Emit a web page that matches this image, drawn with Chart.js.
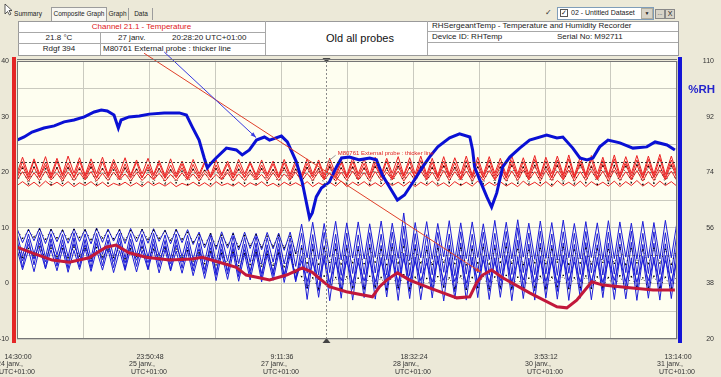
<!DOCTYPE html>
<html>
<head>
<meta charset="utf-8">
<script src="https://cdn.jsdelivr.net/npm/chart.js@4.4.1/dist/chart.umd.min.js"></script>
<style>
  body { margin:0; width:721px; height:377px; background:#ECE9D8; font-family:"Liberation Sans", Arial, sans-serif; overflow:hidden; position:relative; color:#222; }
  .a { position:absolute; white-space:nowrap; }
  .ln { position:absolute; background:#A8A8A8; }
  .tab { position:absolute; top:8px; height:12px; font-size:6.5px; line-height:12px; text-align:center; white-space:nowrap; }
  .cell { position:absolute; font-size:8px; white-space:nowrap; }
  #chart { position:absolute; left:0; top:0; z-index:2; }
</style>
</head>
<body>
<!-- window chrome: tabs, dataset picker, info table -->
<svg class="a" style="left:4px;top:3px" width="9" height="13"><path d="M1 1 L1 11 L3.5 8.5 L5.5 12 L7 11 L5 7.5 L8 7.5 Z" fill="#fff" stroke="#333" stroke-width="0.8"/></svg>
<div class="tab" style="left:8px;width:40px;">Summary</div>
<div class="tab" style="left:51px;width:54px;top:7px;height:13px;background:#F7F6F1;border:1px solid #9C9C9C;border-bottom:none;">Composite Graph</div>
<div class="tab" style="left:107px;width:21px;border-right:1px solid #9C9C9C;">Graph</div>
<div class="tab" style="left:130px;width:22px;border-right:1px solid #9C9C9C;">Data</div>

<div class="a" style="left:545px;top:9px;width:7px;height:7px;font-size:8px;line-height:7px;color:#333;">&#10003;</div>
<div class="a" style="left:557px;top:7px;width:95px;height:11px;background:#fff;border:1px solid #7F9DB9;"></div>
<div class="a" style="left:560px;top:9px;width:6px;height:6px;border:1px solid #555;font-size:7px;line-height:6px;text-align:center;background:#fff;">&#10003;</div>
<div class="a" style="left:571px;top:8px;font-size:7px;line-height:10px;">02 - Untitled Dataset</div>
<div class="a" style="left:641px;top:8px;width:10px;height:9px;background:#D8D4C8;border:1px solid #B0AC9C;font-size:5px;line-height:9px;text-align:center;">&#9660;</div>
<div class="a" style="left:655px;top:9px;width:8px;height:8px;background:#D8D4C8;border:1px solid #888;font-size:6px;line-height:6px;text-align:center;">...</div>
<div class="a" style="left:665px;top:9px;width:8px;height:8px;background:#D8D4C8;border:1px solid #888;font-size:7px;line-height:8px;text-align:center;">X</div>

<div class="a" style="left:18px;top:21px;width:659px;height:33px;background:#fff;border:1px solid #9A9A9A;"></div>
<div class="ln" style="left:18px;top:32px;width:247px;height:1px;"></div>
<div class="ln" style="left:18px;top:43px;width:247px;height:1px;"></div>
<div class="ln" style="left:427px;top:31px;width:251px;height:1px;"></div>
<div class="ln" style="left:427px;top:42px;width:251px;height:1px;"></div>
<div class="ln" style="left:100px;top:32px;width:1px;height:23px;"></div>
<div class="ln" style="left:265px;top:21px;width:1px;height:34px;"></div>
<div class="ln" style="left:427px;top:21px;width:1px;height:34px;"></div>

<div class="cell" style="left:18px;top:22px;width:247px;text-align:center;line-height:10px;color:#E02020;">Channel 21.1 - Temperature</div>
<div class="cell" style="left:18px;top:33px;width:82px;text-align:center;line-height:10px;">21.8 &#176;C</div>
<div class="cell" style="left:118px;top:33px;line-height:10px;">27 janv.</div>
<div class="cell" style="left:172px;top:33px;line-height:10px;">20:28:20 UTC+01:00</div>
<div class="cell" style="left:18px;top:44px;width:82px;text-align:center;line-height:10px;">Rdgf 394</div>
<div class="cell" style="left:103px;top:44px;line-height:10px;">M80761 External probe : thicker line</div>
<div class="cell" style="left:300px;top:31px;width:120px;text-align:center;font-size:11px;line-height:15px;color:#111;">Old all probes</div>
<div class="cell" style="left:432px;top:21px;line-height:10px;">RHSergeantTemp - Temperature and Humidity Recorder</div>
<div class="cell" style="left:432px;top:32px;line-height:10px;">Device ID: RHTemp</div>
<div class="cell" style="left:557px;top:32px;line-height:10px;">Serial No: M92711</div>

<canvas id="chart" width="721" height="377"></canvas>

<script>
// time axis: hours since 24 janv. 14:30:00 (UTC+01:00)
const spanHours = 166.733;
const timeLabels = [
  ["14:30:00", "24 janv."], ["23:50:48", "25 janv."], ["9:11:36", "27 janv."],
  ["18:32:24", "28 janv."], ["3:53:12", "30 janv."], ["13:14:00", "31 janv."]
];
const cursorHours = 77.97;   // 27 janv. 20:28:20
const cursorTemp = 21.8;

// logger sample times shared by the thin probe traces
const sampleHours = [
  0.0, 1.4, 2.9, 4.3, 5.7, 7.2, 8.6, 10.1, 11.5, 12.9,
  14.4, 15.8, 17.2, 18.7, 20.1, 21.6, 23.0, 24.4, 25.9, 27.3,
  28.7, 30.2, 31.6, 33.1, 34.5, 35.9, 37.4, 38.8, 40.2, 41.7,
  43.1, 44.5, 46.0, 47.4, 48.9, 50.3, 51.7, 53.2, 54.6, 56.0,
  57.5, 58.9, 60.4, 61.8, 63.2, 64.7, 66.1, 67.5, 69.0, 70.4,
  71.9, 73.3, 74.7, 76.2, 77.6, 79.0, 80.5, 81.9, 83.3, 84.8,
  86.2, 87.7, 89.1, 90.5, 92.0, 93.4, 94.8, 96.3, 97.7, 99.2,
  100.6, 102.0, 103.5, 104.9, 106.3, 107.8, 109.2, 110.6, 112.1, 113.5,
  115.0, 116.4, 117.8, 119.3, 120.7, 122.1, 123.6, 125.0, 126.5, 127.9,
  129.3, 130.8, 132.2, 133.6, 135.1, 136.5, 138.0, 139.4, 140.8, 142.3,
  143.7, 145.1, 146.6, 148.0, 149.4, 150.9, 152.3, 153.8, 155.2, 156.6,
  158.1, 159.5, 160.9, 162.4, 163.8, 165.3, 166.7
];

// temperature probes (°C)
const tempProbeA = [
  19.8, 22.7, 19.6, 22.4, 19.7, 22.8, 19.5, 22.5, 19.6, 22.9,
  19.8, 22.6, 19.5, 22.4, 19.7, 22.7, 19.6, 22.3, 19.8, 22.6,
  19.5, 22.2, 19.7, 22.5, 19.6, 22.1, 19.4, 22.4, 19.6, 22.0,
  19.5, 22.3, 19.7, 21.9, 19.4, 22.2, 19.6, 22.0, 19.5, 22.3,
  19.7, 21.9, 19.5, 22.2, 19.6, 22.0, 19.4, 22.3, 19.6, 22.1,
  19.5, 22.4, 19.7, 22.2, 19.5, 22.5, 19.6, 22.3, 19.4, 22.6,
  19.7, 22.4, 19.5, 22.7, 19.6, 22.5, 19.8, 22.8, 19.5, 22.6,
  19.7, 22.9, 19.6, 22.5, 19.4, 22.8, 19.6, 22.6, 19.7, 22.9,
  19.5, 22.7, 19.6, 22.8, 19.8, 22.5, 19.5, 22.9, 19.7, 22.6,
  19.6, 23.0, 19.5, 22.7, 19.7, 22.9, 19.6, 23.1, 19.4, 22.8,
  19.6, 23.0, 19.7, 22.7, 19.5, 23.1, 19.6, 22.8, 19.8, 23.0,
  19.5, 22.9, 19.7, 23.2, 19.6, 22.9, 19.8
];
const tempProbeB = [
  19.3, 21.9, 19.1, 22.1, 19.2, 21.8, 19.0, 22.0, 19.3, 21.7,
  19.1, 22.0, 19.2, 21.6, 19.0, 21.9, 19.3, 21.7, 19.1, 21.5,
  19.2, 21.8, 19.0, 21.4, 19.3, 21.6, 19.1, 21.3, 19.2, 21.5,
  19.0, 21.4, 19.2, 21.6, 19.1, 21.3, 19.3, 21.5, 19.0, 21.4,
  19.2, 21.6, 19.1, 21.3, 19.3, 21.5, 19.0, 21.7, 19.2, 21.4,
  19.1, 21.6, 19.3, 21.8, 19.0, 21.5, 19.2, 21.7, 19.1, 21.9,
  19.3, 21.6, 19.0, 21.8, 19.2, 22.0, 19.1, 21.7, 19.3, 21.9,
  19.0, 22.1, 19.2, 21.8, 19.1, 22.0, 19.3, 21.7, 19.0, 22.1,
  19.2, 21.9, 19.1, 22.2, 19.3, 21.8, 19.0, 22.1, 19.2, 21.9,
  19.1, 22.3, 19.3, 22.0, 19.0, 22.2, 19.2, 22.4, 19.1, 22.0,
  19.3, 22.3, 19.0, 22.1, 19.2, 22.4, 19.1, 22.0, 19.3, 22.2,
  19.0, 22.3, 19.2, 22.5, 19.1, 22.2, 19.3
];
const tempProbeC = [
  19.0, 21.1, 18.8, 20.9, 19.0, 21.2, 18.9, 20.8, 18.8, 21.0,
  19.0, 20.9, 18.8, 21.1, 18.9, 20.7, 19.0, 21.0, 18.8, 20.8,
  18.9, 20.6, 19.0, 20.9, 18.8, 20.7, 18.9, 20.5, 19.0, 20.8,
  18.8, 20.6, 18.9, 20.4, 19.0, 20.7, 18.8, 20.5, 18.9, 20.6,
  19.0, 20.4, 18.8, 20.7, 18.9, 20.5, 19.0, 20.8, 18.8, 20.6,
  18.9, 20.9, 19.0, 20.7, 18.8, 21.0, 18.9, 20.8, 19.0, 21.1,
  18.8, 20.9, 18.9, 21.2, 19.0, 20.8, 18.8, 21.1, 18.9, 20.9,
  19.0, 21.2, 18.8, 21.0, 18.9, 21.3, 19.0, 20.9, 18.8, 21.2,
  18.9, 21.0, 19.0, 21.3, 18.8, 21.1, 18.9, 21.4, 19.0, 21.0,
  18.8, 21.3, 18.9, 21.1, 19.0, 21.4, 18.8, 21.2, 18.9, 21.5,
  19.0, 21.2, 18.8, 21.4, 18.9, 21.1, 19.0, 21.5, 18.8, 21.3,
  18.9, 21.4, 19.0, 21.2, 18.8, 21.5, 18.9
];
const tempProbeD = [
  18.6, 20.1, 18.4, 19.9, 18.5, 20.2, 18.6, 19.8, 18.4, 20.0,
  18.5, 19.9, 18.6, 20.1, 18.4, 19.8, 18.5, 20.0, 18.6, 19.7,
  18.4, 19.9, 18.5, 19.7, 18.6, 19.8, 18.4, 19.6, 18.5, 19.9,
  18.6, 19.7, 18.4, 19.8, 18.5, 19.6, 18.6, 19.9, 18.4, 19.7,
  18.5, 19.8, 18.6, 19.6, 18.4, 19.9, 18.5, 19.7, 18.6, 20.0,
  18.4, 19.8, 18.5, 20.1, 18.6, 19.9, 18.4, 20.0, 18.5, 20.2,
  18.6, 19.9, 18.4, 20.1, 18.5, 20.0, 18.6, 20.2, 18.4, 19.9,
  18.5, 20.2, 18.6, 20.0, 18.4, 20.3, 18.5, 20.1, 18.6, 20.2,
  18.4, 20.0, 18.5, 20.3, 18.6, 20.1, 18.4, 20.2, 18.5, 20.4,
  18.6, 20.1, 18.4, 20.3, 18.5, 20.2, 18.6, 20.4, 18.4, 20.1,
  18.5, 20.3, 18.6, 20.2, 18.4, 20.4, 18.5, 20.1, 18.6, 20.3,
  18.4, 20.2, 18.5, 20.4, 18.6, 20.2, 18.5
];
const tempProbeE = [
  17.6, 18.3, 17.5, 18.2, 17.4, 18.4, 17.6, 18.2, 17.5, 18.3,
  17.4, 18.1, 17.6, 18.3, 17.5, 18.2, 17.4, 18.0, 17.6, 18.2,
  17.5, 18.1, 17.4, 18.3, 17.6, 18.1, 17.5, 18.2, 17.4, 18.0,
  17.6, 18.2, 17.5, 18.1, 17.4, 18.3, 17.6, 18.0, 17.5, 18.2,
  17.4, 18.1, 17.6, 18.3, 17.5, 18.0, 17.4, 18.2, 17.6, 18.1,
  17.5, 18.3, 17.4, 18.1, 17.6, 18.2, 17.5, 18.4, 17.4, 18.2,
  17.6, 18.3, 17.5, 18.1, 17.4, 18.4, 17.6, 18.2, 17.5, 18.3,
  17.4, 18.2, 17.6, 18.4, 17.5, 18.1, 17.4, 18.3, 17.6, 18.2,
  17.5, 18.4, 17.4, 18.2, 17.6, 18.3, 17.5, 18.1, 17.4, 18.4,
  17.6, 18.2, 17.5, 18.3, 17.4, 18.5, 17.6, 18.2, 17.5, 18.4,
  17.4, 18.3, 17.6, 18.2, 17.5, 18.4, 17.4, 18.3, 17.6, 18.5,
  17.5, 18.2, 17.4, 18.4, 17.6, 18.3, 17.5
];
const tempProbeRef = [
  18.0, 20.7, 17.9, 20.9, 18.1, 20.6, 17.8, 20.8, 18.0, 20.7,
  17.9, 20.5, 18.1, 20.8, 17.8, 20.6, 18.0, 20.4, 17.9, 20.7,
  18.1, 20.5, 17.8, 20.3, 18.0, 20.6, 17.9, 20.4, 18.1, 20.2,
  17.8, 20.5, 18.0, 20.3, 17.9, 20.6, 18.1, 20.4, 17.8, 20.5,
  18.0, 20.3, 17.9, 20.6, 18.1, 20.4, 17.8, 20.7, 18.0, 20.5,
  17.9, 20.8, 18.1, 20.6, 17.8, 20.9, 18.0, 20.7, 17.9, 20.8,
  18.1, 20.6, 17.8, 20.9, 18.0, 20.7, 17.9, 21.0, 18.1, 20.8,
  17.8, 20.9, 18.0, 20.7, 17.9, 21.0, 18.1, 20.8, 17.8, 21.1,
  18.0, 20.9, 17.9, 21.0, 18.1, 20.8, 17.8, 21.1, 18.0, 20.9,
  17.9, 21.2, 18.1, 20.9, 17.8, 21.1, 18.0, 21.0, 17.9, 21.2,
  18.1, 20.9, 17.8, 21.1, 18.0, 21.2, 17.9, 21.0, 18.1, 21.3,
  17.8, 21.0, 18.0, 21.2, 17.9, 21.1, 18.0
];

// humidity probes (%RH)
const rhProbeA = [
  55.8, 51.2, 55.5, 51.8, 55.9, 50.9, 55.6, 51.5, 55.4, 51.0,
  55.7, 51.6, 55.5, 50.8, 55.9, 51.3, 55.6, 51.7, 55.4, 50.9,
  55.8, 51.4, 55.5, 51.0, 55.7, 51.6, 55.3, 50.8, 55.6, 51.2,
  55.4, 50.6, 54.6, 49.5, 54.3, 49.0, 54.7, 49.4, 54.4, 48.8,
  54.6, 49.3, 54.2, 48.9, 54.5, 49.2, 54.3, 48.7, 54.6, 47.5,
  57.2, 46.3, 57.8, 45.8, 57.4, 46.5, 58.1, 45.6, 57.6, 46.2,
  57.9, 45.9, 57.3, 46.4, 58.2, 45.7, 57.5, 46.1, 60.8, 45.4,
  57.7, 46.3, 58.0, 45.8, 57.4, 46.6, 58.3, 45.5, 57.6, 46.0,
  57.9, 46.4, 57.3, 45.7, 58.4, 46.2, 57.8, 45.9, 58.6, 46.5,
  57.5, 45.8, 58.2, 46.1, 57.7, 45.6, 58.5, 46.3, 57.4, 45.9,
  58.0, 46.4, 57.6, 45.7, 58.3, 46.0, 57.9, 46.5, 57.5, 45.8,
  58.1, 46.2, 57.7, 45.9, 58.4, 46.3, 57.6
];
const rhProbeB = [
  54.3, 46.8, 54.0, 47.5, 54.5, 46.4, 54.1, 47.2, 53.9, 46.6,
  54.4, 47.0, 54.0, 46.3, 54.2, 47.4, 53.8, 46.7, 54.3, 46.2,
  54.1, 47.1, 53.9, 46.5, 54.2, 46.9, 53.7, 46.1, 54.0, 46.6,
  53.6, 45.8, 53.2, 45.0, 53.5, 44.6, 53.0, 45.2, 53.3, 44.4,
  52.9, 44.8, 53.2, 44.2, 52.8, 44.9, 53.1, 44.3, 52.7, 43.5,
  54.2, 41.3, 53.8, 40.8, 54.5, 41.5, 53.9, 40.6, 54.3, 41.2,
  53.7, 40.9, 54.4, 41.4, 53.9, 40.7, 54.6, 41.1, 56.5, 40.5,
  54.1, 41.3, 53.8, 40.8, 54.5, 41.6, 54.0, 40.5, 54.7, 41.0,
  53.9, 41.4, 54.6, 40.7, 54.2, 41.2, 54.8, 40.9, 56.0, 41.5,
  54.3, 40.8, 54.9, 41.1, 54.0, 40.6, 54.7, 41.3, 54.2, 40.9,
  54.8, 41.4, 54.1, 40.7, 54.6, 41.0, 54.3, 41.5, 54.9, 40.8,
  54.2, 41.2, 54.7, 40.9, 54.4, 41.3, 54.0
];
const rhProbeC = [
  52.6, 43.2, 52.3, 44.0, 52.8, 43.0, 52.4, 43.6, 52.1, 42.8,
  52.7, 43.4, 52.2, 42.9, 52.5, 43.7, 52.0, 43.1, 52.6, 42.7,
  52.3, 43.5, 52.1, 42.6, 52.4, 43.2, 51.9, 42.4, 52.2, 42.9,
  51.6, 42.0, 51.0, 41.2, 51.3, 40.6, 50.8, 41.0, 51.1, 40.2,
  50.7, 40.8, 51.0, 39.9, 50.5, 40.5, 50.9, 39.7, 50.6, 38.5,
  50.4, 36.2, 50.8, 35.7, 50.2, 36.4, 50.9, 35.5, 50.5, 36.1,
  50.1, 35.8, 50.7, 36.3, 50.3, 35.6, 51.0, 36.0, 52.5, 35.4,
  50.6, 36.2, 50.2, 35.7, 50.8, 36.5, 50.4, 35.3, 51.1, 35.9,
  50.3, 36.4, 50.9, 35.6, 50.5, 36.1, 51.2, 35.8, 52.0, 36.3,
  50.7, 35.5, 51.0, 36.0, 50.4, 35.4, 51.1, 36.2, 50.6, 35.7,
  51.2, 36.4, 50.5, 35.6, 51.0, 35.9, 50.7, 36.5, 51.3, 35.8,
  50.6, 36.1, 51.0, 35.5, 50.8, 36.3, 50.5
];
const rhProbeD = [
  50.9, 45.3, 50.6, 45.9, 51.0, 45.0, 50.7, 45.6, 50.4, 44.8,
  50.8, 45.4, 50.5, 44.9, 50.9, 45.7, 50.3, 45.1, 50.7, 44.6,
  50.5, 45.5, 50.2, 44.7, 50.6, 45.2, 50.1, 44.4, 50.4, 44.9,
  49.8, 43.6, 49.2, 42.5, 49.5, 41.8, 49.0, 42.2, 49.3, 41.5,
  48.9, 42.0, 49.2, 41.2, 48.7, 41.7, 49.0, 40.9, 48.6, 39.5,
  46.8, 32.8, 46.3, 33.5, 47.0, 32.4, 46.5, 33.2, 46.9, 32.6,
  46.2, 33.4, 46.8, 32.9, 46.4, 33.6, 47.1, 32.5, 47.8, 33.1,
  46.6, 32.7, 46.1, 33.3, 46.9, 32.3, 46.4, 33.0, 47.2, 32.6,
  46.5, 33.4, 46.9, 32.8, 46.3, 33.5, 47.0, 32.4, 46.7, 33.1,
  46.2, 32.6, 46.8, 33.3, 46.5, 32.9, 47.1, 32.5, 46.6, 33.2,
  46.9, 32.7, 46.4, 33.4, 47.0, 32.8, 46.6, 33.0, 46.3, 32.5,
  46.8, 33.2, 46.5, 32.6, 47.0, 33.1, 46.7
];
const rhProbeE = [
  49.2, 42.4, 48.8, 41.8, 49.4, 42.7, 48.9, 42.1, 49.1, 41.6,
  48.7, 42.5, 49.3, 41.9, 48.8, 42.3, 49.0, 41.5, 48.6, 42.2,
  49.1, 41.7, 48.7, 42.4, 49.2, 41.4, 48.9, 42.0, 48.5, 41.3,
  48.4, 40.5, 47.8, 39.6, 48.1, 38.9, 47.6, 39.3, 47.9, 38.7,
  47.5, 39.1, 47.8, 38.5, 47.3, 39.0, 47.7, 38.3, 47.2, 38.8,
  45.3, 38.6, 44.8, 39.1, 45.5, 38.4, 44.9, 38.9, 45.2, 38.2,
  44.7, 38.8, 45.4, 38.5, 45.0, 39.2, 45.6, 38.3, 46.0, 38.7,
  45.1, 38.9, 44.6, 38.4, 45.3, 39.0, 44.8, 38.6, 45.5, 38.1,
  44.9, 38.8, 45.6, 38.3, 45.0, 38.9, 45.7, 38.5, 45.2, 39.1,
  44.8, 38.4, 45.4, 38.7, 45.1, 38.2, 45.6, 38.9, 44.9, 38.5,
  45.5, 38.8, 45.0, 38.3, 45.3, 39.0, 45.7, 38.6, 45.1, 38.4,
  45.6, 38.9, 45.2, 38.5, 45.4, 38.7, 45.0
];
const rhProbeRefA = [
  55.4, 52.6, 55.2, 53.0, 55.5, 52.3, 55.3, 52.8, 55.1, 52.4,
  55.4, 52.9, 55.2, 52.2, 55.5, 52.7, 55.0, 52.5, 55.3, 52.1,
  55.1, 52.8, 55.4, 52.3, 55.2, 52.6, 54.9, 52.0, 55.1, 52.4,
  54.5, 51.4, 53.8, 50.6, 54.0, 50.2, 53.6, 50.5, 53.9, 49.9,
  53.5, 50.3, 53.7, 49.8, 53.3, 50.1, 53.6, 49.6, 53.2, 47.8,
  49.2, 44.6, 48.8, 44.2, 49.4, 44.8, 48.9, 44.3, 49.1, 44.7,
  48.7, 44.4, 49.3, 44.9, 48.9, 44.1, 49.5, 44.6, 49.8, 44.3,
  49.0, 44.7, 48.6, 44.2, 49.2, 44.9, 48.8, 44.4, 49.4, 44.0,
  48.9, 44.6, 49.5, 44.3, 49.1, 44.8, 49.6, 44.5, 49.0, 44.1,
  48.7, 44.7, 49.3, 44.4, 49.0, 44.9, 49.6, 44.2, 48.8, 44.6,
  49.4, 44.3, 49.1, 44.8, 48.9, 44.5, 49.5, 44.1, 49.2, 44.7,
  48.8, 44.4, 49.3, 44.6, 49.0, 44.2, 49.4
];
const rhProbeRefB = [
  49.6, 46.4, 49.3, 46.9, 49.8, 46.2, 49.4, 46.7, 49.2, 46.3,
  49.7, 46.8, 49.3, 46.1, 49.6, 46.6, 49.1, 46.4, 49.5, 46.0,
  49.2, 46.7, 49.5, 46.2, 49.0, 46.5, 49.3, 45.9, 49.1, 46.3,
  48.6, 45.2, 47.9, 44.4, 48.2, 44.0, 47.7, 44.3, 48.0, 43.7,
  47.6, 44.1, 47.9, 43.6, 47.4, 43.9, 47.8, 43.4, 47.3, 41.5,
  40.2, 36.7, 39.8, 36.3, 40.4, 36.9, 39.9, 36.4, 40.1, 36.8,
  39.7, 36.5, 40.3, 37.0, 39.9, 36.2, 40.5, 36.7, 40.8, 36.4,
  40.0, 36.8, 39.6, 36.3, 40.2, 37.0, 39.8, 36.5, 40.4, 36.1,
  39.9, 36.7, 40.5, 36.4, 40.1, 36.9, 40.6, 36.6, 40.0, 36.2,
  39.7, 36.8, 40.3, 36.5, 40.0, 37.0, 40.6, 36.3, 39.8, 36.7,
  40.4, 36.4, 40.1, 36.9, 39.9, 36.6, 40.5, 36.2, 40.2, 36.8,
  39.8, 36.5, 40.3, 36.7, 40.0, 36.3, 40.4
];

// RHSergeantTemp recorder humidity (thick blue, %RH)
const recorderHours = [
  0, 1.8, 3.8, 6.8, 9.4, 11.9, 14.4, 17.0, 19.5, 21.3, 22.8, 24.5, 25.6, 26.3, 28.3, 30.9,
  33.4, 37.2, 41.0, 42.8, 44.3, 46.0, 47.3, 48.1, 49.1, 50.3, 52.9, 55.4, 56.9, 58.7, 60.5,
  62.5, 63.8, 66.8, 68.3, 70.6, 72.1, 73.9, 74.6, 75.6, 76.9, 78.9, 80.7, 82.0, 84.0, 86.5,
  89.1, 90.8, 92.3, 94.1, 96.1, 97.9, 99.9, 102.5, 104.2, 106.3, 109.3, 111.8, 114.4, 115.1,
  115.6, 116.9, 118.7, 119.9, 121.2, 122.7, 124.5, 127.0, 129.5, 133.8, 136.4, 137.9, 140.4,
  142.2, 144.0, 145.5, 147.2, 149.3, 152.3, 155.6, 159.1, 161.2, 164.2, 166.2
];
const recorderRH = [
  84.4, 85.4, 87.0, 88.3, 89.0, 90.3, 90.9, 91.9, 93.5, 94.1, 93.8, 92.5, 88.3, 90.9, 91.9, 92.2,
  92.8, 93.2, 93.2, 92.5, 88.6, 84.4, 78.6, 75.4, 77.0, 78.6, 81.8, 81.2, 79.6, 81.2, 84.4,
  85.4, 84.4, 85.7, 83.8, 77.3, 70.5, 59.2, 60.8, 66.0, 68.9, 70.8, 75.7, 78.6, 78.9, 78.0,
  78.6, 78.0, 73.1, 69.2, 65.0, 66.6, 70.5, 75.7, 78.9, 82.2, 85.1, 86.4, 85.4, 81.2,
  75.7, 71.5, 66.0, 62.7, 67.3, 75.7, 78.9, 81.8, 84.4, 86.0, 85.1, 85.4, 81.8,
  78.6, 78.0, 78.6, 82.2, 84.4, 83.5, 81.8, 82.2, 83.8, 82.8, 81.2
];

// M80761 external probe (thick line, °C)
const externalHours = [
  0, 3.8, 8.9, 13.2, 18.2, 22.5, 25.0, 28.3, 32.6, 38.5, 44.3, 46.8, 51.1, 55.4, 57.9, 61.2,
  63.8, 68.1, 72.1, 74.6, 78.9, 83.2, 89.8, 91.6, 93.4, 96.1, 99.2, 104.2, 111.1, 114.4,
  116.1, 117.6, 119.9, 122.7, 129.5, 136.4, 138.9, 141.4, 145.2, 148.0, 154.8, 160.7, 166.2
];
const externalTemp = [
  6.5, 5.5, 4.2, 3.8, 4.6, 6.5, 6.9, 5.5, 4.7, 4.2, 4.4, 4.7, 3.8, 2.9, 1.5, 1.0,
  0.6, 1.5, 2.8, 2.0, -0.6, -1.5, -2.4, -0.6, 0.6, 1.9, 0.6, -0.8, -2.6, -2.4,
  0.1, 1.5, 2.4, 1.0, -1.7, -4.2, -4.4, -3.0, 0.3, -0.3, -0.8, -1.2, -1.2
];

const pts = (xs, ys) => ys.map((y, i) => ({ x: xs[i], y }));
const thin = (ys, color, axis) => ({
  data: pts(sampleHours, ys), yAxisID: axis, borderColor: color, borderWidth: 1, pointRadius: 0, order: 3
});
const dotted = (ys, axis) => ({
  data: pts(sampleHours, ys), yAxisID: axis, borderColor: 'rgba(0,0,0,0.75)', borderWidth: 1, borderDash: [1, 4],
  pointRadius: 1, pointStyle: 'rect', pointBackgroundColor: '#000', pointBorderWidth: 0, order: 2
});

const RED = '#EC2222', BLUE = '#1C1CD8';
const datasets = [
  { data: pts(recorderHours, recorderRH), yAxisID: 'y1', borderColor: '#0A10D4', borderWidth: 3, pointRadius: 0, order: 0 },
  { data: pts(externalHours, externalTemp), yAxisID: 'y', borderColor: '#C2183A', borderWidth: 3, pointRadius: 0, order: 0 },
  dotted(tempProbeRef, 'y'),
  dotted(rhProbeRefA, 'y1'),
  dotted(rhProbeRefB, 'y1'),
  thin(tempProbeA, RED, 'y'), thin(tempProbeB, RED, 'y'), thin(tempProbeC, RED, 'y'),
  thin(tempProbeD, RED, 'y'), thin(tempProbeE, RED, 'y'),
  thin(rhProbeA, BLUE, 'y1'), thin(rhProbeB, BLUE, 'y1'), thin(rhProbeC, BLUE, 'y1'),
  thin(rhProbeD, BLUE, 'y1'), thin(rhProbeE, BLUE, 'y1')
];

const FONT = '"Liberation Sans", Arial, sans-serif';

function arrow(ctx, x1, y1, x2, y2, color) {
  ctx.strokeStyle = color; ctx.fillStyle = color; ctx.lineWidth = 1;
  ctx.beginPath(); ctx.moveTo(x1, y1); ctx.lineTo(x2, y2); ctx.stroke();
  const ang = Math.atan2(y2 - y1, x2 - x1);
  ctx.beginPath();
  ctx.moveTo(x2, y2);
  ctx.lineTo(x2 - 6 * Math.cos(ang - 0.35), y2 - 6 * Math.sin(ang - 0.35));
  ctx.lineTo(x2 - 6 * Math.cos(ang + 0.35), y2 - 6 * Math.sin(ang + 0.35));
  ctx.closePath(); ctx.fill();
}

const decor = {
  id: 'decor',
  beforeDraw(chart) {
    const { ctx, chartArea: a } = chart;
    ctx.save();
    ctx.fillStyle = '#FEFEF0';
    ctx.fillRect(a.left, a.top, a.right - a.left, a.bottom - a.top);
    ctx.restore();
  },
  afterDatasetsDraw(chart) {
    const { ctx, chartArea: a, scales: { x, y, y1 } } = chart;
    ctx.save();
    // cursor cross
    const cx = Math.round(x.getPixelForValue(cursorHours)) + 0.5;
    const cy = Math.round(y.getPixelForValue(cursorTemp)) + 0.5;
    ctx.lineWidth = 1;
    ctx.setLineDash([2, 2]);
    ctx.strokeStyle = '#8A8A8A';
    ctx.beginPath(); ctx.moveTo(cx, a.top); ctx.lineTo(cx, a.bottom); ctx.stroke();
    ctx.strokeStyle = '#333';
    ctx.beginPath(); ctx.moveTo(a.left, cy); ctx.lineTo(a.right, cy); ctx.stroke();
    ctx.setLineDash([]);
    ctx.fillStyle = '#444';
    ctx.beginPath(); ctx.moveTo(cx - 4, a.top - 3); ctx.lineTo(cx + 4, a.top - 3); ctx.lineTo(cx, a.top + 2); ctx.fill();
    ctx.beginPath(); ctx.moveTo(cx - 4, a.bottom + 4); ctx.lineTo(cx + 4, a.bottom + 4); ctx.lineTo(cx, a.bottom - 1); ctx.fill();

    // note pointers from the info table
    arrow(ctx, x.getPixelForValue(32.1), y.getPixelForValue(41.4), x.getPixelForValue(117.2), y.getPixelForValue(2.0), '#E0402A');
    arrow(ctx, x.getPixelForValue(37.2), y1.getPixelForValue(112.9), x.getPixelForValue(60.4), y1.getPixelForValue(85.2), '#3A3AE0');

    // curve label
    const lx = x.getPixelForValue(81.0), ly = y.getPixelForValue(23.4);
    ctx.strokeStyle = '#999';
    ctx.beginPath(); ctx.moveTo(cx, cy); ctx.lineTo(lx - 2, ly + 2); ctx.stroke();
    ctx.font = '6px ' + FONT;
    ctx.fillStyle = '#E02020';
    ctx.textBaseline = 'middle';
    ctx.fillText('M80761 External probe : thicker line', lx, ly);
    ctx.restore();
  },
  afterDraw(chart) {
    const { ctx, chartArea: a, scales: { x, y1 } } = chart;
    ctx.save();
    // plot frame
    ctx.strokeStyle = '#767676'; ctx.lineWidth = 1;
    ctx.strokeRect(a.left + 0.5, a.top + 0.5, a.right - a.left - 1, a.bottom - a.top - 1);
    ctx.beginPath(); ctx.moveTo(a.left, a.top - 1.5); ctx.lineTo(a.right, a.top - 1.5); ctx.stroke();
    // axis colour bars
    ctx.fillStyle = '#E42626';
    ctx.fillRect(a.left - 5, a.top - 4, 4, a.bottom - a.top + 8);
    ctx.fillStyle = '#1414D6';
    ctx.fillRect(a.right + 1, a.top - 4, 4, a.bottom - a.top + 8);
    // %RH axis name
    ctx.font = 'bold 11.5px ' + FONT;
    ctx.fillStyle = '#2424CC';
    ctx.textAlign = 'right'; ctx.textBaseline = 'middle';
    ctx.fillText('%RH', y1.right + 1, y1.getPixelForValue(100.6));
    // time labels
    ctx.font = '7px ' + FONT;
    ctx.fillStyle = '#333';
    timeLabels.forEach((lab, i) => {
      const px = x.getPixelForValue(i * spanHours / 5);
      ctx.textAlign = 'center';
      ctx.fillText(lab[0], px + 1, 357);
      ctx.fillText('UTC+01:00', px, 372);
      ctx.textAlign = 'left';
      ctx.fillText(lab[1] + ',', px - 20, 364.5);
    });
    ctx.restore();
  }
};

new Chart(document.getElementById('chart'), {
  type: 'line',
  data: { datasets },
  options: {
    responsive: false,
    animation: false,
    devicePixelRatio: 1,
    layout: { padding: { top: 61, bottom: 38, left: 0, right: 7 } },
    plugins: { legend: { display: false }, tooltip: { enabled: false } },
    elements: { line: { tension: 0 } },
    scales: {
      x: {
        type: 'linear', min: 0, max: spanHours,
        afterBuildTicks: s => { s.ticks = Array.from({ length: 11 }, (_, i) => ({ value: i * spanHours / 10 })); },
        ticks: { display: false },
        grid: { color: '#CACABF', drawTicks: false },
        border: { display: false }
      },
      y: {
        position: 'left', min: -10, max: 40,
        afterFit: s => { s.width = 17; },
        ticks: { stepSize: 5, padding: 8, color: '#333', font: { size: 7, family: FONT },
                 callback: v => (v % 10 === 0 ? v : '') },
        grid: { color: '#CACABF', drawTicks: false },
        border: { display: false }
      },
      y1: {
        position: 'right', min: 20, max: 110,
        afterFit: s => { s.width = 37; },
        ticks: { stepSize: 18, crossAlign: 'far', color: '#333', font: { size: 7, family: FONT } },
        grid: { display: false, drawTicks: false },
        border: { display: false }
      }
    }
  },
  plugins: [decor]
});
</script>
</body>
</html>
